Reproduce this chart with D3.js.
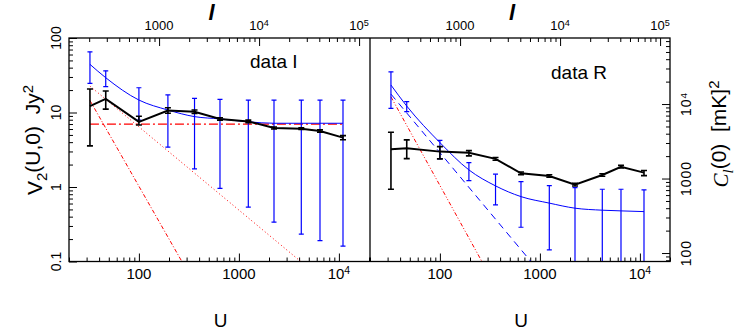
<!DOCTYPE html>
<html>
<head>
<meta charset="utf-8">
<style>
  body { margin: 0; background: #fff; }
  svg text { font-family: "Liberation Sans", Arial, sans-serif; fill: #000; }
  .tk line { stroke: #000; stroke-width: 1; }
  .tk path { display: none; }
</style>
</head>
<body>
<svg id="chart" width="747" height="331" xmlns="http://www.w3.org/2000/svg"></svg>
<script src="https://cdn.jsdelivr.net/npm/d3@7/dist/d3.min.js"></script>
<script>
// baselines U (same for both panels)
const uVals = [32.4, 46.6, 100, 195, 360, 647, 1242, 2244, 4207, 6471, 10990];

// data I (left panel, Jy^2)
const blackI   = [12.2, 15.2, 7.5, 10.6, 10.2, 8.2, 7.6, 6.2, 6.07, 5.65, 4.6];
const blackIHi = [20.7, 19.4, 8.9, 11.6, 10.8, 8.5, 7.9, 6.4, 6.25, 5.85, 4.9];
const blackILo = [3.56, 11.1, 6.8, 9.75, 9.7, 7.9, 7.3, 6.0, 5.9, 5.45, 4.3];
const blueI    = [44.3, 29.3, 14.7, 10.8, 8.8, 8.2, 7.5, 7.17, 7.17, 7.17, 7.17];
const blueIHi  = [65.3, 36.3, 21.5, 17.2, 15.5, 15.0, 14.7, 14.7, 14.7, 14.7, 14.7];
const blueILo  = [24.6, 22.3, 7.9, 3.42, 1.75, 0.96, 0.536, 0.337, 0.233, 0.191, 0.161];
const redFlatI    = [[32.4, 7.0], [10990, 7.0]];
const redDotI     = [[32.4, 22.6], [4150, 0.1]];
const redSteepI   = [[32.4, 14.5], [269, 0.1]];

// data R (right panel, mK^2)
const blackR   = [2470, 2549, 2298, 2226, 1838, 1177, 1083, 829, 1117, 1441, 1200];
const blackRHi = [4190, 3300, 2680, 2370, 1920, 1225, 1125, 865, 1160, 1500, 1280];
const blackRLo = [719, 1853, 1838, 2013, 1760, 1130, 1040, 795, 1075, 1385, 1095];
const blueR    = [17990, 9394, 3040, 1306, 797, 572, 468, 400, 376, 368, 360];
const blueRHi  = [27100, 10750, 3250, 1635, 1143, 907, 802, 753, 718, 718, 704];
const blueRLo  = [8760, 7890, 1840, 940, 443, 222, 110, 47, 34, 18, 16];
const blueDashR = [[32.4, 13600], [813, 77]];
const redSteepR = [[32.4, 12500], [263, 77]];

// tick labels
const uLabels = [[100, "100"], [1000, "1000"], [1e4, "10", "4"]];
const lLabels = [[1000, "1000"], [1e4, "10", "4"], [1e5, "10", "5"]];
const vLabels = [[0.1, "0.1"], [1, "1"], [10, "10"], [100, "100"]];
const cLabels = [[100, "100"], [1000, "1000"], [1e4, "10", "4"]];

const yTop = 38, yBot = 261.5;
const svg = d3.select("#chart");
svg.append("rect").attr("width", 747).attr("height", 331).attr("fill", "#fff");

const panels = [
  { x0: 69, x1: 370, id: "cI" },
  { x0: 370, x1: 670, id: "cR" }
];
panels.forEach(p => {
  p.x = d3.scaleLog().domain([20, 20000]).range([p.x0, p.x0 + 300]);
  p.l = d3.scaleLog().domain([40 * Math.PI, 40000 * Math.PI]).range([p.x0, p.x0 + 300]);
  svg.append("clipPath").attr("id", p.id).append("rect")
    .attr("x", p.x0).attr("y", yTop).attr("width", p.x1 - p.x0).attr("height", yBot - yTop);
});
const yV = d3.scaleLog().domain([0.1, 100]).range([yBot, yTop]);
const yC = d3.scaleLog().domain([77, 77000]).range([yBot, yTop]);

function isMajor(v) {
  let e = Math.log10(v);
  return Math.abs(e - Math.round(e)) < 1e-6;
}

function ticks(axis, scale, transform, minorLen, majorLen) {
  let all = scale.ticks();
  let g = svg.append("g").attr("class", "tk").attr("transform", transform);
  g.call(axis(scale).tickValues(all.filter(v => !isMajor(v))).tickSize(-minorLen).tickFormat(""));
  let g2 = svg.append("g").attr("class", "tk").attr("transform", transform);
  g2.call(axis(scale).tickValues(all.filter(isMajor)).tickSize(-majorLen).tickFormat(""));
}

function label(g, d, size) {
  let t = g.append("text").attr("font-size", size).attr("text-anchor", "middle");
  t.append("tspan").text(d[1]);
  if (d[2]) t.append("tspan").attr("dy", "-0.45em").attr("font-size", size * 0.7).text(d[2]);
  return t;
}

panels.forEach(p => {
  ticks(d3.axisBottom, p.x, `translate(0,${yBot})`, 4, 8);
  ticks(d3.axisTop, p.l, `translate(0,${yTop})`, 4, 8);
  uLabels.forEach(d => label(svg, d, 15).attr("x", p.x(d[0])).attr("y", 279));
  lLabels.forEach(d => label(svg, d, 13).attr("x", p.l(d[0])).attr("y", 30));
  svg.append("text").attr("x", (p.x0 + p.x1) / 2 + 1).attr("y", 327)
    .attr("font-size", 19).attr("text-anchor", "middle").text("U");
  svg.append("text").attr("x", (p.x0 + p.x1) / 2 - 8).attr("y", 20)
    .attr("font-size", 22).attr("font-style", "italic").attr("font-weight", "bold")
    .attr("font-family", "Liberation Serif").attr("text-anchor", "middle").text("l");
});
ticks(d3.axisLeft, yV, `translate(69,0)`, 4, 8);
ticks(d3.axisRight, yC, `translate(670,0)`, 4, 8);

vLabels.forEach(d => label(svg, d, 14)
  .attr("transform", `translate(61,${yV(d[0])}) rotate(-90)`));
cLabels.forEach(d => label(svg, d, 14).attr("fill", "#333").attr("letter-spacing", 1)
  .attr("transform", `translate(691,${yC(d[0])}) rotate(-90)`));

// axis titles
let yt = svg.append("text").attr("font-size", 21).attr("text-anchor", "middle")
  .attr("transform", "translate(42,140) rotate(-90)");
yt.append("tspan").text("V");
yt.append("tspan").attr("dy", "0.3em").attr("font-size", 15).text("2");
yt.append("tspan").attr("dy", "-0.3em").text("(U,0)\u00a0\u00a0Jy");
yt.append("tspan").attr("dy", "-0.5em").attr("font-size", 15).text("2");

let rt = svg.append("text").attr("font-size", 21).attr("text-anchor", "middle")
  .attr("transform", "translate(728,134) rotate(-90)");
rt.append("tspan").attr("font-style", "italic").attr("font-family", "Liberation Serif").text("C");
rt.append("tspan").attr("dy", "0.3em").attr("font-size", 15).attr("font-style", "italic")
  .attr("font-family", "Liberation Serif").text("l");
rt.append("tspan").attr("dy", "-0.3em").text("(0)\u00a0\u00a0[mK]");
rt.append("tspan").attr("dy", "-0.5em").attr("font-size", 15).text("2");

svg.append("text").attr("x", 250).attr("y", 68).attr("font-size", 19).text("data I");
svg.append("text").attr("x", 551).attr("y", 79).attr("font-size", 19).attr("fill", "#333").text("data R");

// plotting
function series(p, y, vals, color, width, dash, curve) {
  let pts = vals.map((v, i) => Array.isArray(v) ? v : [uVals[i], v]);
  let line = d3.line().x(d => p.x(d[0])).y(d => y(d[1])).curve(curve || d3.curveLinear);
  svg.append("path").attr("clip-path", `url(#${p.id})`)
    .attr("d", line(pts)).attr("fill", "none").attr("stroke", color)
    .attr("stroke-width", width).attr("stroke-dasharray", dash || null);
}
function bars(p, y, hi, lo, color, width, cap) {
  let g = svg.append("g").attr("clip-path", `url(#${p.id})`)
    .attr("stroke", color).attr("stroke-width", width);
  uVals.forEach((u, i) => {
    let x = p.x(u);
    g.append("line").attr("x1", x).attr("x2", x).attr("y1", y(hi[i])).attr("y2", y(lo[i]));
    g.append("line").attr("x1", x - cap).attr("x2", x + cap).attr("y1", y(hi[i])).attr("y2", y(hi[i]));
    g.append("line").attr("x1", x - cap).attr("x2", x + cap).attr("y1", y(lo[i])).attr("y2", y(lo[i]));
  });
}

const [pI, pR] = panels;
series(pI, yV, redDotI, "#ff0000", 1, "1,2.5");
series(pI, yV, redSteepI, "#ff0000", 1, "4,2,1,2");
series(pI, yV, redFlatI, "#ff0000", 1.2, "9,3,2,3");
bars(pI, yV, blueIHi, blueILo, "#0000ff", 1.2, 2.5);
series(pI, yV, blueI, "#0000ff", 1, null, d3.curveMonotoneX);
bars(pI, yV, blackIHi, blackILo, "#000", 1.6, 3);
series(pI, yV, blackI, "#000", 2);

series(pR, yC, redSteepR, "#ff0000", 1, "4,2,1,2,1,2");
series(pR, yC, blueDashR, "#0000ff", 1, "7,5");
bars(pR, yC, blueRHi, blueRLo, "#0000ff", 1.2, 2.5);
series(pR, yC, blueR, "#0000ff", 1, null, d3.curveMonotoneX);
bars(pR, yC, blackRHi, blackRLo, "#000", 1.6, 3);
series(pR, yC, blackR, "#000", 2);

// frame
svg.append("rect").attr("x", 69).attr("y", yTop).attr("width", 601).attr("height", yBot - yTop)
  .attr("fill", "none").attr("stroke", "#000").attr("stroke-width", 1.3);
svg.append("line").attr("x1", 370).attr("x2", 370).attr("y1", yTop).attr("y2", yBot)
  .attr("stroke", "#000").attr("stroke-width", 1.3);
</script>
</body>
</html>
